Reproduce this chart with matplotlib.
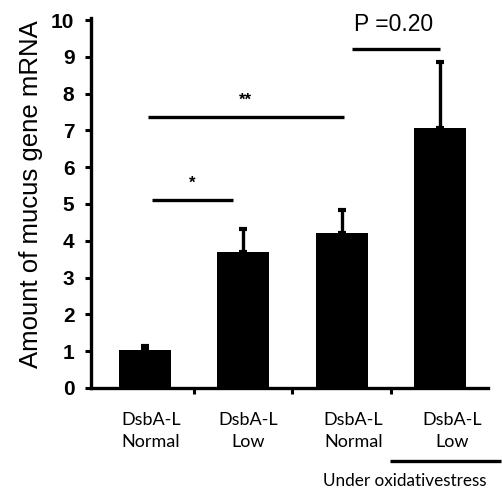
import matplotlib.pyplot as plt
import matplotlib.transforms as mtransforms

# values
groups = ['DsbA-L\nNormal', 'DsbA-L\nLow', 'DsbA-L\nNormal', 'DsbA-L\nLow']
means = [1.02, 3.70, 4.20, 7.07]
errors = [0.13, 0.62, 0.64, 1.78]
yticks = [0, 1, 2, 3, 4, 5, 6, 7, 8, 9, 10]

# significance brackets: (x start, x end, height, label)
sig_lines = [(0.07, 0.89, 5.12, '*'), (0.03, 2.02, 7.36, '**'), (2.11, 3.00, 9.22, 'P =0.20')]

fig = plt.figure(figsize=(5.03, 4.91), dpi=100)
ax = fig.add_axes([0.181, 0.210, 0.789, 0.753])

x = list(range(len(means)))
ax.bar(x, means, width=0.53, color='black', zorder=2)
ax.errorbar(x, means, yerr=[[0] * len(errors), errors], fmt='none',
            ecolor='black', elinewidth=2.4, capsize=3, capthick=3, zorder=3)

ax.set_xlim(-0.55, 3.49)
ax.set_ylim(0, 10.05)
ax.set_yticks(yticks)
ax.set_yticklabels([str(t) for t in yticks], fontsize=15, fontweight='bold',
                   family='Liberation Sans')
ax.set_xticks([0.5, 1.5, 2.5])
ax.set_xticklabels([])
ax.tick_params(axis='both', direction='out', length=4, width=2.2)
ax.tick_params(axis='y', pad=8)
for s in ['top', 'right']:
    ax.spines[s].set_visible(False)
for s in ['left', 'bottom']:
    ax.spines[s].set_linewidth(2.4)

ax.set_ylabel('Amount of mucus gene mRNA', fontsize=18.5, family='Liberation Sans')
ax.yaxis.set_label_coords(-0.122, 0.525)

for x0, x1, h, lab in sig_lines:
    ax.plot([x0, x1], [h, h], color='black', lw=2.4, solid_capstyle='butt',
            clip_on=False)
    if lab.startswith('P'):
        ax.text((x0 + x1) / 2 - 0.03, h + 0.35, lab, ha='center', va='bottom',
                fontsize=16.5, family='Liberation Sans')
    else:
        ax.text((x0 + x1) / 2, h + 0.25, lab, ha='center', va='bottom',
                fontsize=12, fontweight='bold', family='Liberation Sans')

# category labels below the axis
trans = mtransforms.blended_transform_factory(ax.transData, ax.transAxes)
label_offsets = [0.06, 0.05, 0.12, 0.13]
for i, g in enumerate(groups):
    ax.text(i + label_offsets[i], -0.117, g, transform=trans, ha='center',
            va='center', fontsize=13, family='Lato', linespacing=1.45)

# "Under oxidative stress" bracket
ax.plot([2.49, 3.62], [-0.198, -0.198], transform=trans, color='black',
        lw=2.4, clip_on=False, solid_capstyle='butt')
ax.text(2.64, -0.252, 'Under oxidativestress', transform=trans, ha='center',
        va='center', fontsize=12.3, family='Lato')

fig.savefig('out.png', dpi=100)
